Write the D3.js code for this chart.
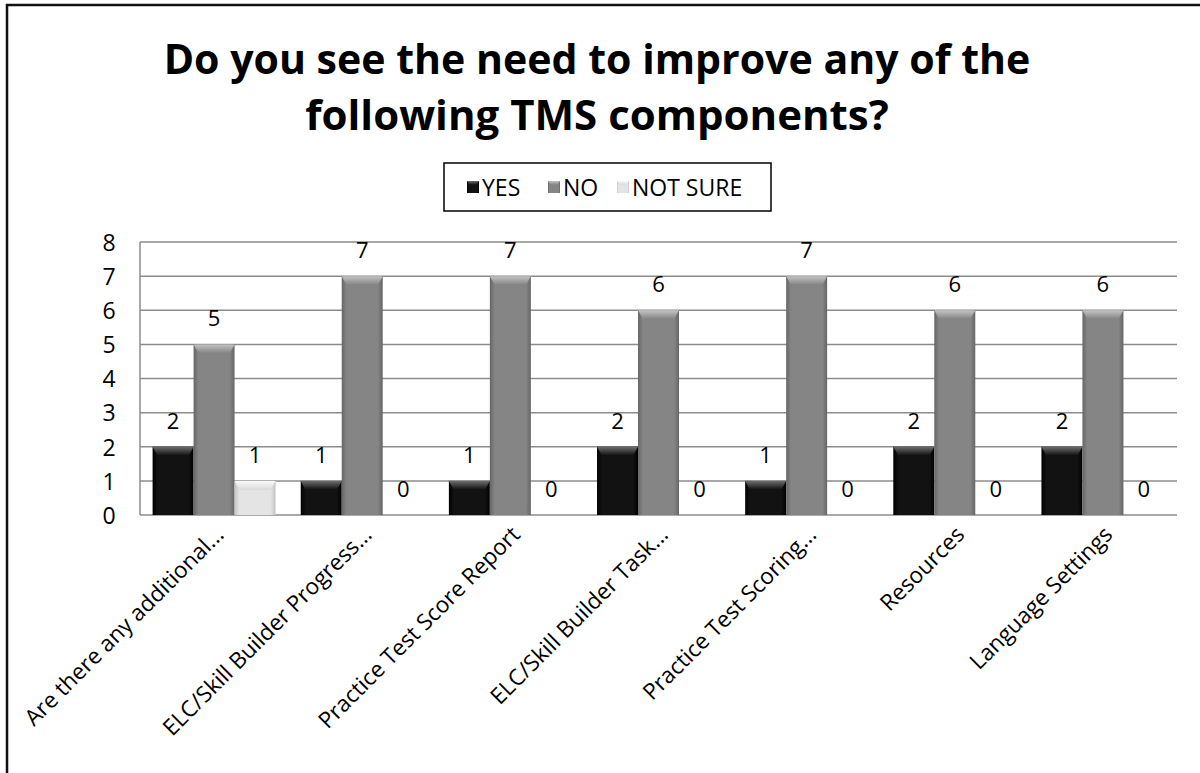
<!DOCTYPE html>
<html><head><meta charset="utf-8">
<script src="https://cdn.jsdelivr.net/npm/d3@7"></script>
<style>html,body{margin:0;padding:0;background:#fff;}svg{display:block;}</style>
</head><body>
<svg id="chart" width="1200" height="773"></svg>
<script>
const categories = ["Are there any additional...", "ELC/Skill Builder Progress...", "Practice Test Score Report", "ELC/Skill Builder Task...", "Practice Test Scoring...", "Resources", "Language Settings"];
const seriesNames = ["YES", "NO", "NOT SURE"];
const yesValues = [2, 1, 1, 2, 1, 2, 2];
const noValues = [5, 7, 7, 6, 7, 6, 6];
const notSureValues = [1, 0, 0, 0, 0, 0, 0];
const yTicks = [0, 1, 2, 3, 4, 5, 6, 7, 8];
const titleLines = ["Do you see the need to improve any of the", "following TMS components?"];

const seriesValues = [yesValues, noValues, notSureValues];
const font = "'Open Sans', Lato, sans-serif";
const svg = d3.select("#chart");
const plotL = 140, plotR = 1177, plotT = 242, plotB = 515;

// frame
svg.append("rect").attr("x", 7).attr("y", 5).attr("width", 1300).attr("height", 900)
  .attr("fill", "#fff").attr("stroke", "#111").attr("stroke-width", 2.5);

const defs = svg.append("defs");
const palettes = [
  {edge: "#000", mid: "#121212", top1: "#6e6e6e", top2: "#0e0e0e"},
  {edge: "#666", mid: "#858585", top1: "#c4c4c4", top2: "#828282"},
  {edge: "#c4c4c4", mid: "#e4e4e4", top1: "#fafafa", top2: "#dadada"}
];
palettes.forEach((p, i) => {
  const g = defs.append("linearGradient").attr("id", "body" + i).attr("x1", 0).attr("x2", 1).attr("y1", 0).attr("y2", 0);
  g.append("stop").attr("offset", "0").attr("stop-color", p.edge);
  g.append("stop").attr("offset", "0.12").attr("stop-color", p.mid);
  g.append("stop").attr("offset", "0.88").attr("stop-color", p.mid);
  g.append("stop").attr("offset", "1").attr("stop-color", p.edge);
  const t = defs.append("linearGradient").attr("id", "top" + i).attr("x1", 0).attr("x2", 0).attr("y1", 0).attr("y2", 1);
  t.append("stop").attr("offset", "0").attr("stop-color", p.top1);
  t.append("stop").attr("offset", "1").attr("stop-color", p.top2);
});

// title (fit widths to the reference lines)
const titleTargets = [867, 678];
const titleY = [74, 130];
titleLines.forEach((t, i) => {
  const el = svg.append("text").attr("x", 597).attr("y", titleY[i]).attr("text-anchor", "middle")
    .attr("font-family", font).attr("font-weight", "bold").attr("font-size", 38).attr("fill", "#000").text(t);
  const w = el.node().getComputedTextLength();
  el.attr("font-size", Math.min(42, 38 * titleTargets[i] / w));
});

// scales
const x0 = d3.scaleBand().domain(categories).range([plotL, plotR]).paddingInner(0.17).paddingOuter(0.085);
const x1 = d3.scaleBand().domain(seriesNames).range([0, x0.bandwidth()]);
const y = d3.scaleLinear().domain([0, 8]).range([plotB, plotT]);

// gridlines
svg.append("g").selectAll("line").data(yTicks).join("line")
  .attr("x1", plotL).attr("x2", plotR).attr("y1", d => y(d)).attr("y2", d => y(d))
  .attr("stroke", "#8c8c8c").attr("stroke-width", 1.5);
svg.append("line").attr("x1", plotL).attr("x2", plotL).attr("y1", plotT).attr("y2", plotB)
  .attr("stroke", "#8c8c8c").attr("stroke-width", 1.5);

// y axis labels
const yAxis = d3.axisLeft(y).tickValues(yTicks).tickSize(0).tickPadding(0);
const ya = svg.append("g").attr("transform", `translate(109,0)`).call(yAxis);
ya.select(".domain").remove();
ya.selectAll("text").attr("font-family", font).attr("font-size", 23).attr("fill", "#000")
  .attr("text-anchor", "middle").attr("dy", "0.36em");

// bars
const groups = svg.append("g").selectAll("g").data(categories).join("g")
  .attr("transform", d => `translate(${x0(d)},0)`);
seriesNames.forEach((s, si) => {
  groups.each(function(c, ci) {
    const v = seriesValues[si][ci];
    const g = d3.select(this);
    const bx = x1(s), bw = x1.bandwidth();
    if (v > 0) {
      const h = plotB - y(v);
      g.append("rect").attr("x", bx).attr("y", y(v)).attr("width", bw).attr("height", h)
        .attr("fill", `url(#body${si})`);
      const th = Math.min(9, h);
      g.append("path").attr("d", `M${bx},${y(v)} L${bx+bw},${y(v)} L${bx+bw-5},${y(v)+th} L${bx+5},${y(v)+th} Z`)
        .attr("fill", `url(#top${si})`);
    }
    g.append("text").attr("x", bx + bw / 2).attr("y", y(v) - 18)
      .attr("text-anchor", "middle").attr("font-family", font).attr("font-size", 22).attr("fill", "#000")
      .text(v);
  });
});

// x labels
const xAxis = d3.axisBottom(x0).tickSize(0).tickPadding(0);
const xa = svg.append("g").attr("transform", `translate(0,${plotB})`).call(xAxis);
xa.select(".domain").remove();
xa.selectAll("text").attr("font-family", font).attr("font-size", 22.5).attr("fill", "#000")
  .attr("text-anchor", "end").attr("dy", 0)
  .attr("transform", "translate(11,21) rotate(-45)");

// legend
const lg = svg.append("g");
lg.append("rect").attr("x", 444).attr("y", 163).attr("width", 327).attr("height", 48)
  .attr("fill", "#fff").attr("stroke", "#000").attr("stroke-width", 1.5);
const legendX = [467, 548, 617];
seriesNames.forEach((s, i) => {
  lg.append("rect").attr("x", legendX[i]).attr("y", 181).attr("width", 12).attr("height", 12)
    .attr("fill", `url(#body${i})`);
  lg.append("path").attr("d", `M${legendX[i]},181 h12 l-3,4 h-6 z`).attr("fill", `url(#top${i})`);
  lg.append("text").attr("x", legendX[i] + 15).attr("y", 196)
    .attr("font-family", font).attr("font-size", 23).attr("fill", "#000").text(s);
});
</script>
</body></html>
